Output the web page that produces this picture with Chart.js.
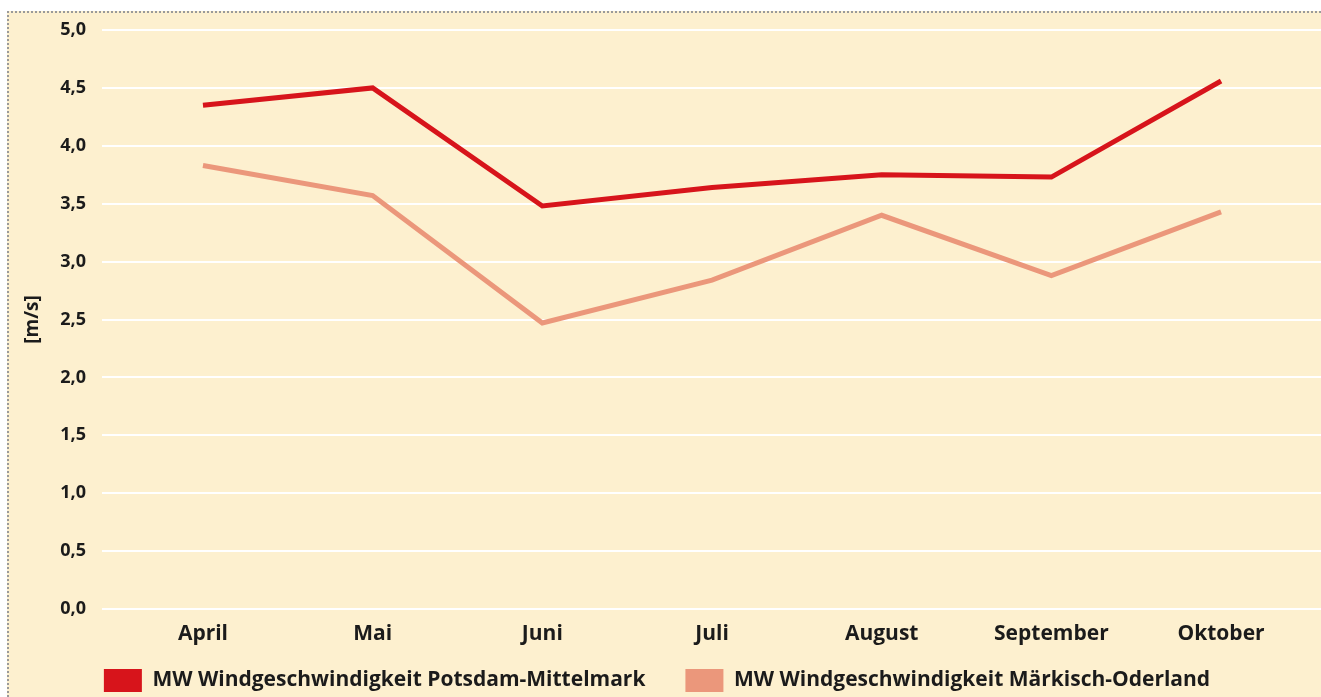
<!DOCTYPE html>
<html lang="de">
<head>
<meta charset="utf-8">
<title>Windgeschwindigkeit</title>
<script src="https://cdn.jsdelivr.net/npm/chart.js@4"></script>
<style>
  html, body { margin: 0; padding: 0; background: #ffffff; }
  #wrap { position: relative; width: 1321px; height: 697px; overflow: hidden; }
  #bg {
    position: absolute; left: 7px; top: 11px; right: 0; bottom: 0;
    background: #fdf0cf;
    border-top: 2px dotted #9a9a9a;
    border-left: 2px dotted #9a9a9a;
  }
  #chartWind { position: absolute; left: 0; top: 0; }
</style>
</head>
<body>
<div id="wrap">
  <div id="bg"></div>
  <canvas id="chartWind" width="1321" height="697"></canvas>
</div>
<script>
// Monatsmittel Windgeschwindigkeit [m/s]
const MONATE = ['April', 'Mai', 'Juni', 'Juli', 'August', 'September', 'Oktober'];
const WIND_POTSDAM = [4.35, 4.50, 3.48, 3.64, 3.75, 3.73, 4.56];
const WIND_ODERLAND = [3.83, 3.57, 2.47, 2.84, 3.40, 2.88, 3.43];
const SERIEN = [
  'MW Windgeschwindigkeit Potsdam-Mittelmark',
  'MW Windgeschwindigkeit Märkisch-Oderland'
];
const Y_MIN = 0, Y_MAX = 5, Y_STEP = 0.5;

const TEXT_COLOR = '#1b1b1b';
const PAD_LEFT = -7;   // shifts the centred legend; y axis fills the rest up to x = 102

Chart.defaults.font.family = "'Open Sans', sans-serif";
Chart.defaults.font.weight = 'bold';
Chart.defaults.color = TEXT_COLOR;

function createWindChart() {
  const ctx = document.getElementById('chartWind');
  if (!ctx) return;

  new Chart(ctx, {
    type: 'line',
    data: {
      datasets: [
        {
          label: SERIEN[0],
          data: WIND_POTSDAM.map((v, i) => ({ x: i, y: v })),
          borderColor: '#d7141b',
          backgroundColor: '#d7141b',
          borderWidth: 5,
          pointRadius: 0,
          tension: 0,
          borderJoinStyle: 'miter'
        },
        {
          label: SERIEN[1],
          data: WIND_ODERLAND.map((v, i) => ({ x: i, y: v })),
          borderColor: '#eb977b',
          backgroundColor: '#eb977b',
          borderWidth: 5,
          pointRadius: 0,
          tension: 0,
          borderJoinStyle: 'miter'
        }
      ]
    },
    options: {
      responsive: false,
      animation: false,
      layout: { padding: { top: 30, right: 0, bottom: 0, left: PAD_LEFT } },
      plugins: {
        tooltip: { enabled: false },
        legend: {
          position: 'bottom',
          align: 'center',
          maxHeight: 68,
          labels: {
            boxWidth: 38,
            boxHeight: 23,
            padding: 40,
            color: TEXT_COLOR,
            font: { size: 21, weight: 'bold' },
            generateLabels: (chart) =>
              Chart.defaults.plugins.legend.labels.generateLabels(chart)
                .map(item => ({ ...item, lineWidth: 0 }))
          }
        }
      },
      scales: {
        x: {
          type: 'linear',
          min: -0.595,
          max: 6.589,
          grid: { display: false, drawTicks: false },
          border: { display: false },
          afterBuildTicks: (scale) => {
            scale.ticks = MONATE.map((m, i) => ({ value: i }));
          },
          afterFit: (scale) => { scale.height = 20; },
          ticks: {
            autoSkip: false,
            mirror: true,
            padding: -38,
            font: { size: 21, weight: 'bold' },
            callback: (v) => MONATE[v]
          }
        },
        y: {
          min: Y_MIN,
          max: Y_MAX,
          grid: { color: '#ffffff', lineWidth: 2, drawTicks: false },
          border: { display: false },
          afterFit: (scale) => { scale.width = 102 - PAD_LEFT; },
          ticks: {
            stepSize: Y_STEP,
            padding: 16,
            font: { size: 18, weight: 'bold' },
            callback: (v) => v.toFixed(1).replace('.', ',')
          },
          title: {
            display: true,
            text: '[m/s]',
            padding: { top: 28, bottom: 0 },
            font: { size: 19, weight: 'bold' }
          }
        }
      }
    }
  });
}

document.addEventListener('DOMContentLoaded', createWindChart);
</script>
</body>
</html>
